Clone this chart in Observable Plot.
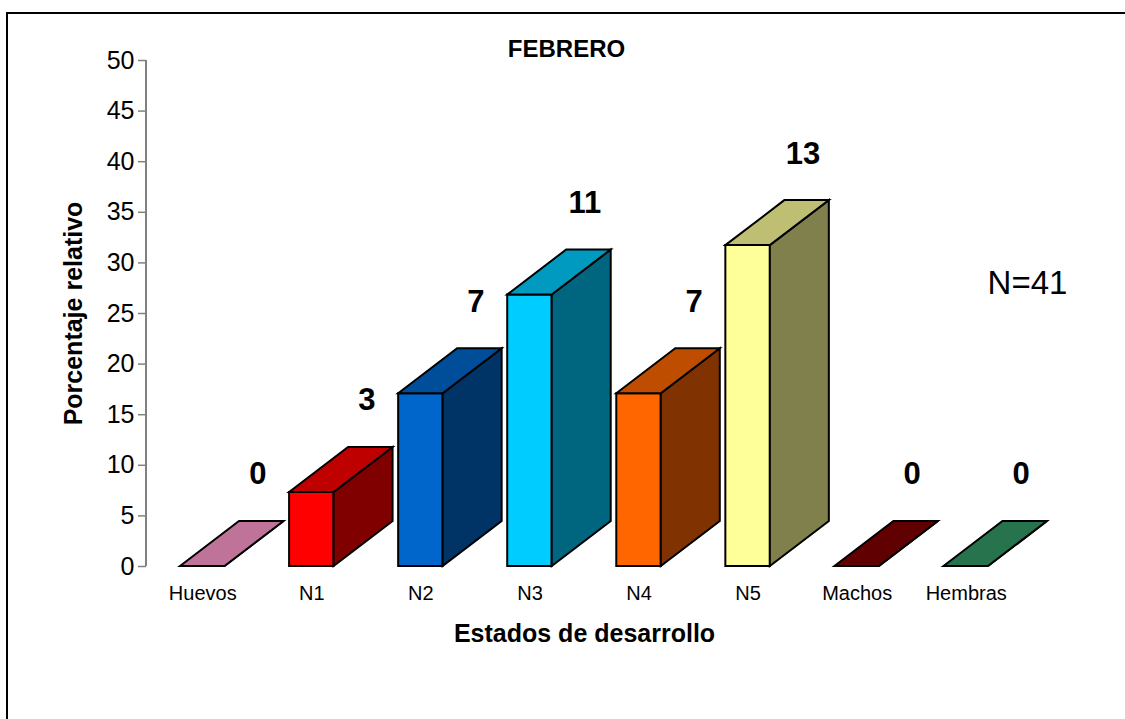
<!DOCTYPE html>
<html>
<head>
<meta charset="utf-8">
<script src="https://cdn.jsdelivr.net/npm/d3@7"></script>
<script src="https://cdn.jsdelivr.net/npm/@observablehq/plot@0.6"></script>
<style>
  html, body { margin: 0; padding: 0; background: #fff; overflow: hidden; }
  #wrap { position: relative; width: 1125px; height: 719px; }
  #border { position: absolute; left: 6px; top: 12px; width: 1300px; height: 900px;
            border-left: 2px solid #000; border-top: 2px solid #000; pointer-events: none; }
  svg { font-family: "Liberation Sans", Arial, sans-serif; }
</style>
</head>
<body>
<div id="wrap"><div id="border"></div><div id="chart"></div></div>
<script>
// ---- data ----
const categories = ["Huevos", "N1", "N2", "N3", "N4", "N5", "Machos", "Hembras"];
const counts = [0, 3, 7, 11, 7, 13, 0, 0];
const total = 41;
const colors = ["#FF99CC", "#FF0000", "#0066CC", "#00CCFF", "#FF6600", "#FFFF99", "#800000", "#339966"];
const yTicks = [0, 5, 10, 15, 20, 25, 30, 35, 40, 45, 50];
const title = "FEBRERO";
const xTitle = "Estados de desarrollo";
const yTitle = "Porcentaje relativo";
const note = "N=" + total;

const data = categories.map((c, i) => ({cat: c, count: counts[i], pct: counts[i] / total * 100, color: colors[i]}));

// 3D depth (pixels)
const DX = 59, DY = -45;

function shade(hex, k) {
  const c = d3.rgb(hex);
  return d3.rgb(c.r * k, c.g * k, c.b * k).formatHex();
}

function bars3d(index, scales, values, dimensions) {
  const {x, y} = scales;
  const bw = x.bandwidth();
  const g = d3.create("svg:g");
  // y axis line
  g.append("line")
    .attr("x1", dimensions.marginLeft).attr("x2", dimensions.marginLeft)
    .attr("y1", y(0)).attr("y2", y(50))
    .attr("stroke", "#808080").attr("stroke-width", 2);
  const poly = (pts, fill) => g.append("path")
    .attr("d", "M" + pts.map(p => p.join(",")).join("L") + "Z")
    .attr("fill", fill).attr("stroke", "#000").attr("stroke-width", 2)
    .attr("stroke-linejoin", "miter");
  for (const d of data) {
    const x0 = x(d.cat), x1 = x0 + bw, y0 = y(0), y1 = y(d.pct);
    poly([[x0, y0], [x0, y1], [x1, y1], [x1, y0]], d.color);
    poly([[x1, y1], [x1 + DX, y1 + DY], [x1 + DX, y0 + DY], [x1, y0]], shade(d.color, 0.5));
    poly([[x0, y1], [x0 + DX, y1 + DY], [x1 + DX, y1 + DY], [x1, y1]], shade(d.color, 0.75));
  }
  return g.node();
}

const chart = Plot.plot({
  width: 1125,
  height: 719,
  marginLeft: 146,
  marginRight: 103,
  marginTop: 60,
  marginBottom: 153,
  style: {fontFamily: '"Liberation Sans", Arial, sans-serif', background: "transparent", color: "#000"},
  x: {type: "band", domain: categories, paddingInner: 0.592, paddingOuter: 0.312, round: false, axis: null},
  y: {domain: [0, 50], axis: null},
  marks: [
    bars3d,
    Plot.axisY({ticks: yTicks, tickSize: 8, tickPadding: 4, stroke: "#808080", strokeWidth: 1.5, fill: "#000", fontSize: 25, label: null}),
    Plot.axisX({tickSize: 0, tickPadding: 19, fontSize: 20, fill: "#000", fontWeight: "normal", label: null}),
    Plot.text(data, {x: "cat", y: "pct", text: d => String(d.count), dx: 55, dy: -92,
      fontSize: 31, fontWeight: "bold", fill: "#000"}),
    Plot.text([title], {frameAnchor: "top", text: d => d, dx: -18, dy: -4, lineAnchor: "bottom",
      fontSize: 24, fontWeight: "bold", fill: "#000"}),
    Plot.text([xTitle], {frameAnchor: "bottom", text: d => d, dy: 75, lineAnchor: "bottom",
      fontSize: 25, fontWeight: "bold", fill: "#000"}),
    Plot.text([yTitle], {frameAnchor: "left", text: d => d, dx: -73, rotate: -90, textAnchor: "middle",
      fontSize: 25, fontWeight: "bold", fill: "#000"}),
    Plot.text([note], {frameAnchor: "right", text: d => d, dx: 5, dy: -30, textAnchor: "middle",
      fontSize: 33, fill: "#000"})
  ]
});
document.getElementById("chart").appendChild(chart);
</script>
</body>
</html>
